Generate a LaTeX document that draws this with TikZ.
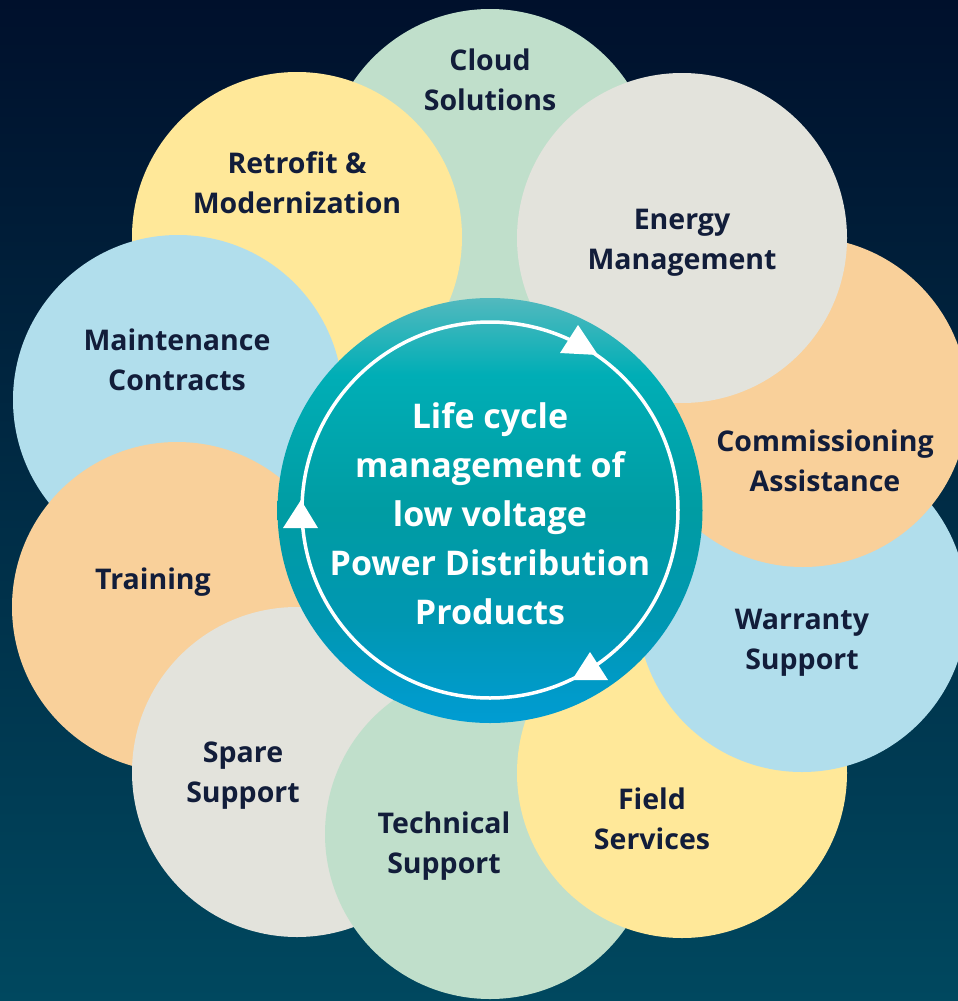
\documentclass[tikz,border=0pt]{standalone}
\usepackage{fontspec}
\setmainfont{Open Sans}
\definecolor{bgtop}{HTML}{00102C}
\definecolor{bgbot}{HTML}{00485F}
\definecolor{cmint}{HTML}{C0DFCB}
\definecolor{cyellow}{HTML}{FFE899}
\definecolor{cgrey}{HTML}{E3E3DC}
\definecolor{cblue}{HTML}{B1DEEC}
\definecolor{corange}{HTML}{F9D09A}
\definecolor{ctext}{HTML}{121D3A}
\definecolor{hubtop}{HTML}{52B9BE}
\definecolor{hubup}{HTML}{00AEB6}
\definecolor{hubmid}{HTML}{009CA3}
\definecolor{hublow}{HTML}{0097B2}
\definecolor{hubbot}{HTML}{009CD3}
\pgfdeclareverticalshading{hubshade}{100bp}{color(0bp)=(hubbot); color(25bp)=(hubbot); color(37bp)=(hublow); color(50bp)=(hubmid); color(66bp)=(hubup); color(75bp)=(hubtop); color(100bp)=(hubtop)}
\tikzset{
  petal/.style={circle, minimum size=330pt, inner sep=0pt, draw=none},
  petaltext/.style={text=ctext, font=\bfseries\fontsize{28.5}{40}\selectfont, align=center, inner sep=0pt},
  hubtext/.style={text=white, font=\bfseries\fontsize{34}{49}\selectfont, align=center, inner sep=0pt},
}
\begin{document}
\begin{tikzpicture}[x=1pt,y=-1pt]
\useasboundingbox (0,0) rectangle (958,1001);
\shade[top color=bgtop, bottom color=bgbot] (0,0) rectangle (958,1001);
\begin{scope}
\clip (0,0) rectangle (958,1001);
\node[petal, fill=cmint]   (cloud) at (490,174) {};
\node[petal, fill=cyellow] (retro) at (297,237) {};
\node[petal, fill=cblue]   (maint) at (178,400) {};
\node[petal, fill=corange] (train) at (177,607) {};
\node[petal, fill=cgrey]   (spare) at (297,772) {};
\node[petal, fill=cmint]   (tech)  at (490,834) {};
\node[petal, fill=cyellow] (field) at (682,773) {};
\node[petal, fill=cblue]   (warr)  at (802,607) {};
\node[petal, fill=corange] (comm)  at (803,402) {};
\node[petal, fill=cgrey]   (energy) at (682,238) {};
\end{scope}
\shade[shading=hubshade] (490,510.5) circle[radius=212.5pt];
\node[circle, minimum size=425pt, inner sep=0pt] (hub) at (490,510.5) {};
\draw[white, line width=3.5pt] (490,510) circle[radius=188pt];
\fill[white] (578,325) -- (560,353) -- (598,355) -- cycle;
\fill[white] (301,500) -- (283,528) -- (318,528) -- cycle;
\fill[white] (590,652) -- (572,680) -- (608,680) -- cycle;
\node[petaltext] (tcloud) at (490,80) {Cloud\\Solutions};
\node[petaltext] (tretro) at (297,183) {Retrofit \&\\Modernization};
\node[petaltext] (tenergy) at (682,243) {Energy\\Management};
\node[petaltext] (tmaint) at (177,360) {Maintenance\\Contracts};
\node[petaltext] (tcomm) at (825,461) {Commissioning\\Assistance};
\node[petaltext] (ttrain) at (153,582) {Training};
\node[petaltext] (twarr) at (802,643) {Warranty\\Support};
\node[petaltext] (tspare) at (243,776) {Spare\\Support};
\node[petaltext] (ttech) at (444,846) {Technical\\Support};
\node[petaltext] (tfield) at (652,819) {Field\\Services};
\node[hubtext] (thub) at (490,514) {Life cycle\\management of\\low voltage\\Power Distribution\\Products};
\end{tikzpicture}
\end{document}
